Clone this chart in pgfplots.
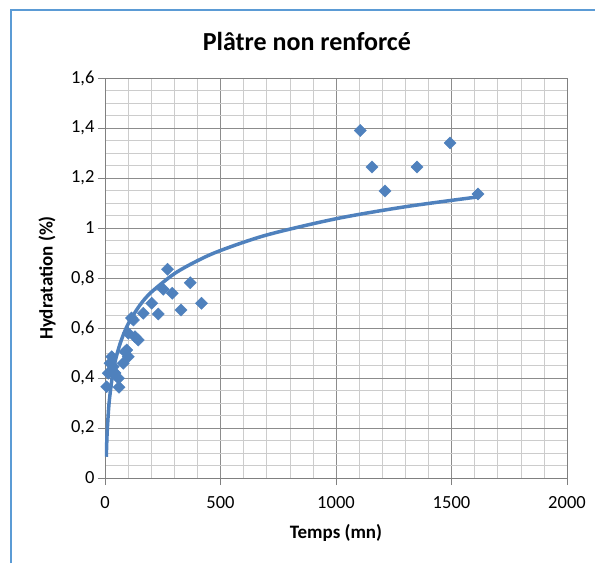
\documentclass[border=0pt]{standalone}
\usepackage{pgfplots}
\pgfplotsset{compat=1.18}
\usepackage{fontspec}
\setmainfont{Carlito}
\definecolor{serie}{RGB}{79,129,189}
\definecolor{cadre}{RGB}{91,155,213}
\begin{document}
\begin{tikzpicture}
\useasboundingbox (0,0) rectangle (595pt,563pt);
\draw[cadre, line width=1.6pt] (11pt,0) -- (11pt,553pt) -- (595pt,553pt);
\begin{axis}[
    at={(105pt,85pt)}, anchor=south west,
    scale only axis, width=462pt, height=400pt,
    xmin=0, xmax=2000, ymin=0, ymax=1.6,
    xtick={0,500,1000,1500,2000},
    ytick={0,0.2,0.4,0.6,0.8,1,1.2,1.4,1.6},
    minor x tick num=4, minor y tick num=3,
    grid=both,
    major grid style={black!45, line width=0.6pt},
    minor grid style={black!20, line width=0.6pt},
    axis line style={black!50, line width=0.8pt},
    tick align=outside, major tick length=7pt, minor tick length=0pt,
    tick style={black!50, line width=0.8pt},
    xtick pos=bottom, ytick pos=left,
    tick label style={font=\fontsize{18.5}{22}\selectfont},
    xticklabel style={yshift=-8pt},
    /pgf/number format/assume math mode=true,
    /pgf/number format/use comma,
    /pgf/number format/1000 sep={},
    title={\textbf{Plâtre non renforcé}},
    title style={font=\fontsize{26}{30}\selectfont, at={(axis description cs:0.437,1.076)}, anchor=center},
    xlabel={\textbf{Temps (mn)}},
    xlabel style={font=\fontsize{19}{22}\selectfont, at={(axis description cs:0.5,-0.1375)}, anchor=center},
    ylabel={\textbf{Hydratation (\%)}},
    ylabel style={font=\fontsize{19}{22}\selectfont, at={(axis description cs:-0.1255,0.5)}, anchor=center},
]
% mesures
\addplot[only marks, mark=square*, mark size=4.3pt, mark options={rotate=45, fill=serie, draw=serie}] coordinates {
    (7,0.365) (14,0.419) (22,0.459) (29,0.485) (36,0.445) (43,0.42)
    (58,0.399) (61,0.363) (79,0.459) (87,0.505) (94,0.512) (101,0.485)
    (101,0.579) (115,0.64) (123,0.632) (130,0.565) (144,0.552)
    (166,0.659) (202,0.699) (231,0.656) (252,0.755) (271,0.835)
    (291,0.739) (329,0.672) (369,0.781) (418,0.699)
    (1105,1.39) (1156,1.244) (1212,1.148) (1351,1.244) (1494,1.34) (1615,1.136)
};
% courbe de tendance (log)
\addplot[serie, line width=3.5pt, no markers, smooth] coordinates {
    (5.5,0.085) (8,0.153) (10,0.194) (15,0.269) (20,0.321) (30,0.395)
    (40,0.448) (50,0.489) (70,0.550) (100,0.616) (150,0.690) (200,0.743)
    (300,0.817) (400,0.869) (500,0.910) (700,0.972) (1000,1.037)
    (1300,1.085) (1620,1.125)
};
\end{axis}
\end{tikzpicture}
\end{document}
